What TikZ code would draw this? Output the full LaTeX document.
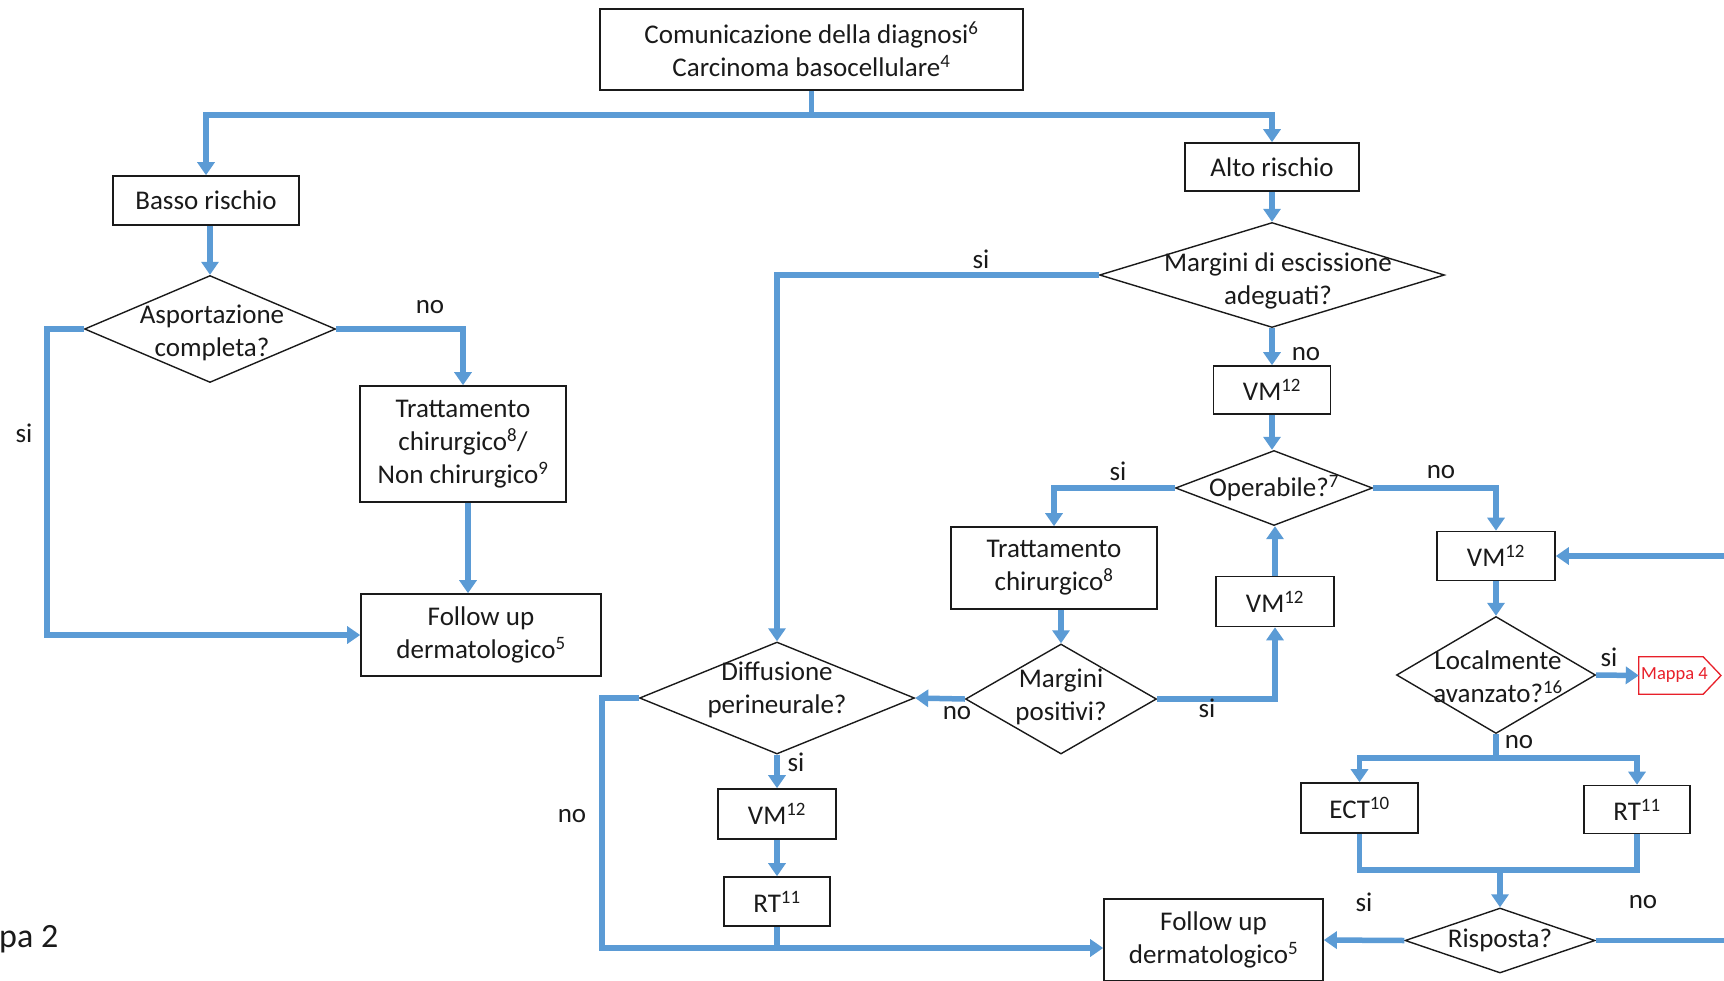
\documentclass[tikz,border=0pt]{standalone}
\usepackage{fontspec}
\setmainfont{Carlito}
\usetikzlibrary{arrows.meta,shapes.geometric}
\definecolor{bl}{HTML}{5B9BD5}
\definecolor{ink}{HTML}{1A1A1A}
\definecolor{mred}{HTML}{E8202A}
\newcommand\myfs{\fontsize{27}{33}\selectfont}
\begin{document}
\begin{tikzpicture}[x=1pt,y=-1pt,
 box/.style={draw=ink, line width=1.6pt, inner sep=0pt, align=center, font=\myfs, text=ink},
 dia/.style={diamond, draw=ink, line width=1.4pt, inner sep=0pt},
 txt/.style={align=center, font=\myfs, text=ink, inner sep=0pt},
 lab/.style={font=\myfs, text=ink, inner sep=0pt},
 conn/.style={draw=bl, line width=5.5pt},
 arr/.style={conn, -{Triangle[length=13pt,width=17pt]}},
]
\fill[white] (0,0) rectangle (1724,980);
\useasboundingbox (0,0) rectangle (1724,980);

% boxes
\node[box, minimum width=423pt, minimum height=81pt] (top) at (811.5,49.5) {Comunicazione della diagnosi\textsuperscript{6}\\Carcinoma basocellulare\textsuperscript{4}};
\node[box, minimum width=186pt, minimum height=49pt] (basso) at (206,200.5) {Basso rischio};
\node[box, minimum width=174pt, minimum height=48pt] (alto) at (1272,167) {Alto rischio};
\node[box, minimum width=117pt, minimum height=48pt] (vm1) at (1272,390) {VM\textsuperscript{12}};
\node[box, minimum width=206pt, minimum height=82pt] (trat2) at (1054,568) {Trattamento\\chirurgico\textsuperscript{8}};
\node[box, minimum width=118pt, minimum height=50pt] (vm3) at (1275,601.5) {VM\textsuperscript{12}};
\node[box, minimum width=118pt, minimum height=49pt] (vm2) at (1496,556) {VM\textsuperscript{12}};
\node[box, minimum width=118pt, minimum height=50pt] (vm4) at (777,814) {VM\textsuperscript{12}};
\node[box, minimum width=106pt, minimum height=49pt] (rt1) at (777,901.5) {RT\textsuperscript{11}};
\node[box, minimum width=219pt, minimum height=82pt] (fu2) at (1213.5,940) {Follow up\\dermatologico\textsuperscript{5}};
\node[box, minimum width=117pt, minimum height=50pt] (ect) at (1359.5,808) {ECT\textsuperscript{10}};
\node[box, minimum width=106pt, minimum height=48pt] (rt2) at (1637,809.5) {RT\textsuperscript{11}};
\node[box, minimum width=206pt, minimum height=116pt] (trat1) at (463,444) {Trattamento\\chirurgico\textsuperscript{8}/\\Non chirurgico\textsuperscript{9}};
\node[box, minimum width=240pt, minimum height=82pt] (fu1) at (481,635) {Follow up\\dermatologico\textsuperscript{5}};

% diamonds
\node[dia, minimum width=345pt, minimum height=105pt] (marg) at (1272,275) {};
\node[txt] (margt) at (1278,281) {Margini di escissione\\adeguati?};
\node[dia, minimum width=197pt, minimum height=75pt] (oper) at (1274,488) {};
\node[txt] (opert) at (1274,488) {Operabile?\textsuperscript{7}};
\node[dia, minimum width=191pt, minimum height=110pt] (margpos) at (1061,699) {};
\node[txt] (margpost) at (1061,697) {Margini\\positivi?};
\node[dia, minimum width=275pt, minimum height=112pt] (diff) at (777,698) {};
\node[txt] (difft) at (777,690) {Diffusione\\perineurale?};
\node[dia, minimum width=199pt, minimum height=117pt] (loc) at (1496,675) {};
\node[txt] (loct) at (1498,677) {Localmente\\avanzato?\textsuperscript{16}};
\node[dia, minimum width=190pt, minimum height=65pt] (risp) at (1500,940.5) {};
\node[txt] (rispt) at (1500,940) {Risposta?};
\node[dia, minimum width=251pt, minimum height=107pt] (asp) at (210,329) {};
\node[txt] (aspt) at (212,333) {Asportazione\\completa?};

% Mappa 4 (pentagon pointing right)
\node[inner sep=0pt, minimum width=64pt, minimum height=37pt] (mappa) at (1671,675.5) {};
\draw[mred, line width=1.3pt] (mappa.north west) -- (mappa.north east) -- (1721,675.5) -- (mappa.south east) -- (mappa.south west) -- cycle;
\node[anchor=west, inner sep=0pt, text=mred, font=\fontsize{18.5}{20}\selectfont] (mappat) at (1641,675.5) {Mappa 4};

\node[anchor=base west, inner sep=0pt, text=ink, font=\fontsize{34}{40}\selectfont] (mp) at (-1,947) {pa 2};

% connectors
\coordinate (j1) at (811.5,115);
\draw[conn] (top.south) -- (j1);
\draw[arr] (j1) -| (basso.north);
\draw[arr] (j1) -| (alto.north);

\draw[arr] (alto.south) -- (marg.north);
\draw[arr] (marg.west) -| (diff.north);
\draw[arr] (marg.south) -- (vm1.north);
\draw[arr] (vm1.south) -- (vm1.south |- oper.north);
\draw[arr] (oper.west) -| (trat2.north);
\draw[arr] (oper.east) -| (vm2.north);
\draw[arr] (margpos.north |- trat2.south) -- (margpos.north);
\draw[arr] (margpos.east) -| (vm3.south);
\draw[arr] (vm3.north) -- (vm3.north |- oper.south);
\draw[arr] (margpos.west) -- (diff.east);
\draw[arr] (diff.south) -- (vm4.north);
\draw[arr] (vm4.south) -- (rt1.north);
\coordinate (dl) at (602,948);
\draw[arr] (diff.west) -| (dl) -- ([yshift=-8pt]fu2.west);
\draw[conn] (rt1.south) -- (rt1.south |- dl);

\draw[arr] (vm2.south) -- (loc.north);
\draw[arr] (loc.east) -- (mappa.west);
\coordinate (jb) at (1496,758);
\draw[conn] (loc.south) -- (jb);
\draw[arr] (jb) -| (ect.north);
\draw[arr] (jb) -| (rt2.north);
\coordinate (jc) at (1500,870);
\draw[conn] (ect.south) |- (jc) -| (rt2.south);
\draw[arr] (jc) -- (risp.north);
\draw[arr] (risp.west) -- (fu2.east);
\coordinate (rr) at (1745,556);
\draw[arr] (risp.east) -| (rr) -- (vm2.east);

\draw[arr] (asp.north |- basso.south) -- (asp.north);
\draw[arr] (asp.east) -| (trat1.north);
\draw[arr] ([xshift=5pt]trat1.south) -- ([xshift=5pt]trat1.south |- fu1.north);
\coordinate (ls) at (47,635);
\draw[arr] (asp.west) -| (ls) -- (fu1.west);

% labels
\node[lab] (l1) at (430,307) {no};
\node[lab] (l2) at (24,433) {si};
\node[lab] (l3) at (981,259) {si};
\node[lab] (l4) at (1306,354) {no};
\node[lab] (l5) at (1118,471) {si};
\node[lab] (l6) at (1441,472) {no};
\node[lab] (l7) at (1207,708) {si};
\node[lab] (l8) at (957,713) {no};
\node[lab] (l9) at (796,762) {si};
\node[lab] (l10) at (572,816) {no};
\node[lab] (l11) at (1609,657) {si};
\node[lab] (l12) at (1519,742) {no};
\node[lab] (l13) at (1364,902) {si};
\node[lab] (l14) at (1643,902) {no};
\end{tikzpicture}
\end{document}
